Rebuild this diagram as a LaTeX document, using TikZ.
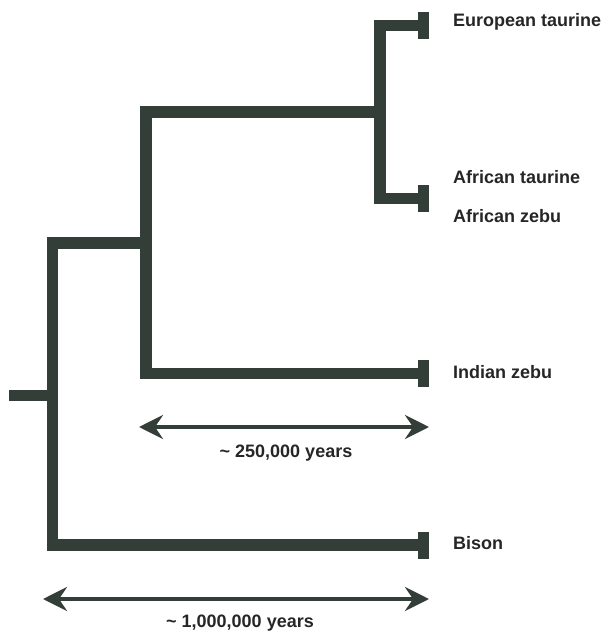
\documentclass[tikz,border=0pt]{standalone}
\usepackage{fontspec}
\setmainfont{Liberation Sans}
\usetikzlibrary{arrows.meta}
\definecolor{branch}{RGB}{52,62,57}
\begin{document}
\begin{tikzpicture}[x=1pt,y=-1pt,
  branchline/.style={draw=branch,line width=11.5pt,line cap=butt,line join=miter},
  tickmark/.style={draw=branch,line width=11pt,line cap=butt},
  taxon/.style={anchor=base west,inner sep=0pt,font=\fontsize{18}{21}\selectfont\bfseries,text=black!85},
  scalelabel/.style={anchor=base,inner sep=0pt,font=\fontsize{18}{21}\selectfont\bfseries,text=black!85},
  scalearrow/.style={draw=branch,line width=4.5pt,{Stealth[length=24pt,width=24pt,inset=8pt]}-{Stealth[length=24pt,width=24pt,inset=8pt]}}]
\useasboundingbox (0,0) rectangle (604,631);
% tree coordinates
\coordinate (rootL) at (9,395.5);
\coordinate (rootR) at (52.5,395.5);
\coordinate (n0top) at (52.5,243);
\coordinate (n0bot) at (52.5,545);
\coordinate (n1L) at (146,243);
\coordinate (n1top) at (146,112);
\coordinate (n1bot) at (146,373.5);
\coordinate (n2L) at (380,112);
\coordinate (n2top) at (380,25.5);
\coordinate (n2bot) at (380,198.5);
\coordinate (tEu) at (418,25.5);
\coordinate (tAf) at (418,198.5);
\coordinate (tIn) at (418,373.5);
\coordinate (tBi) at (418,545);
% branches
\draw[branchline] (rootL) -- (rootR);
\draw[branchline] (n1L) -- (n0top) -- (n0bot) -- (tBi);
\draw[branchline] (n2L) -- (n1top) -- (n1bot) -- (tIn);
\draw[branchline] (tEu) -- (n2top) -- (n2bot) -- (tAf);
% end ticks
\foreach \t in {tEu,tAf,tIn,tBi}
  \draw[tickmark] ([shift={(5.5,-13.5)}]\t) -- ([shift={(5.5,13.5)}]\t);
% labels
\node[taxon] (eu) at (453,27) {European taurine};
\node[taxon] (at) at (453,183) {African taurine};
\node[taxon] (az) at (453,222) {African zebu};
\node[taxon] (iz) at (453,378) {Indian zebu};
\node[taxon] (bi) at (453,549) {Bison};
% scale arrows
\coordinate (a1L) at (139,427);
\coordinate (a1R) at (429,427);
\draw[scalearrow] (a1L) -- (a1R);
\node[scalelabel] (l1) at (286,457) {\char`\~{} 250,000 years};
\coordinate (a2L) at (43,599);
\coordinate (a2R) at (429,599);
\draw[scalearrow] (a2L) -- (a2R);
\node[scalelabel] (l2) at (240,627) {\char`\~{} 1,000,000 years};
\end{tikzpicture}
\end{document}
